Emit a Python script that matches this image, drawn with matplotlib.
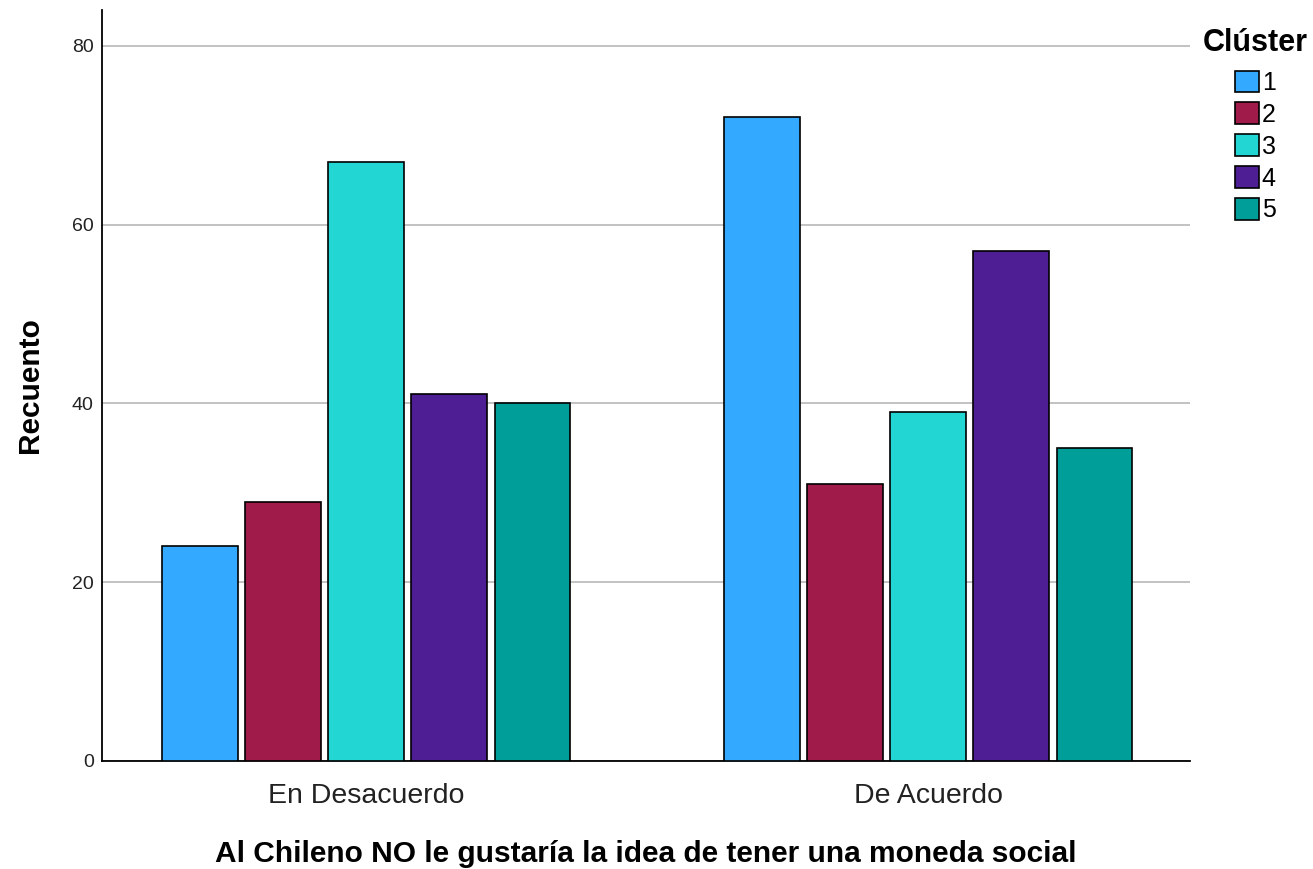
import matplotlib.pyplot as plt
import numpy as np

plt.rcParams['font.family'] = ['Liberation Sans', 'DejaVu Sans']

categorias = ['En Desacuerdo', 'De Acuerdo']
clusters = ['1', '2', '3', '4', '5']
recuento = [
    [24, 72],   # cluster 1
    [29, 31],   # cluster 2
    [67, 39],   # cluster 3
    [41, 57],   # cluster 4
    [40, 35],   # cluster 5
]
colores = ['#33AAFF', '#A01A4A', '#22D6D4', '#4E1F94', '#009E98']

fig = plt.figure(figsize=(13.13, 8.69), dpi=100)
ax = fig.add_axes([0.0777, 0.1243, 0.8286, 0.8642])

x = np.arange(len(categorias))
ancho = 0.135
paso = 0.148
for i, (nombre, vals) in enumerate(zip(clusters, recuento)):
    ax.bar(x + (i - 2) * paso, vals, width=ancho, color=colores[i],
           edgecolor='black', linewidth=1.2, label=nombre, zorder=3)

ax.set_xlim(-0.47, 1.466)
ax.set_ylim(0, 84)
ax.set_yticks([0, 20, 40, 60, 80])
ax.set_xticks(x)
ax.set_xticklabels(categorias, fontsize=20.5, color='#222222')
ax.tick_params(axis='y', length=0, labelsize=14, pad=6, labelcolor='#222222')
ax.tick_params(axis='x', length=0, pad=16)
ax.grid(axis='y', color='#B8B8B8', linewidth=1.2, zorder=0)

for s in ['top', 'right']:
    ax.spines[s].set_visible(False)
ax.spines['left'].set_linewidth(1.3)
ax.spines['bottom'].set_linewidth(1.3)

ax.set_ylabel('Recuento', fontsize=21.5, fontweight='bold', labelpad=20)
ax.set_xlabel('Al Chileno NO le gustaría la idea de tener una moneda social',
              fontsize=21.5, fontweight='bold', labelpad=22)

leg = ax.legend(title='Clúster', loc='upper left', bbox_to_anchor=(1.012, 0.976),
                frameon=False, fontsize=18, handlelength=0.95, handleheight=0.95,
                handletextpad=0.1, labelspacing=0.3, borderaxespad=0, borderpad=0)
leg.get_title().set_fontweight('bold')
leg.get_title().set_fontsize(22)
leg._legend_box.sep = 9  # un poco mas de aire bajo el titulo

plt.savefig('out.png')
